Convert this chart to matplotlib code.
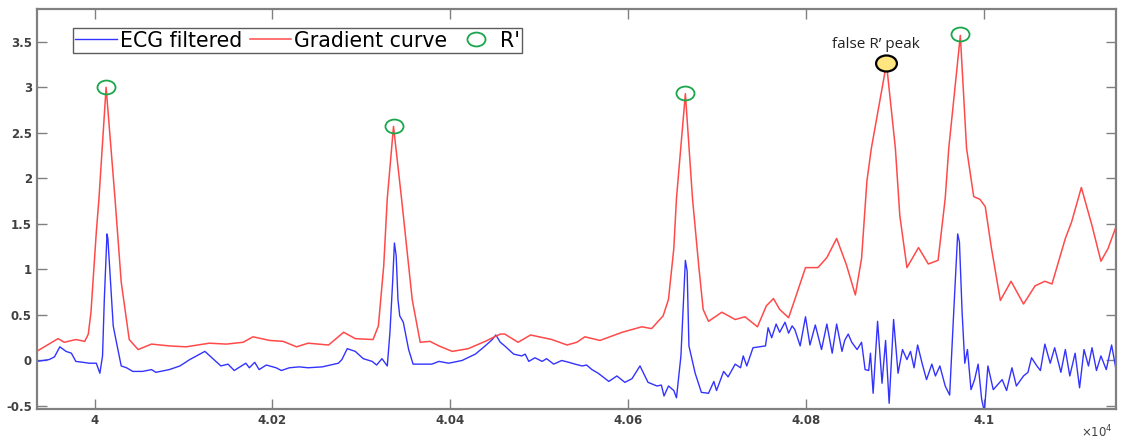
import numpy as np
from matplotlib import pyplot as plt
from matplotlib.path import Path

# Gradient curve (red) at its turning points
grad_x = [39935, 39959, 39966, 39979, 39989, 39993, 39996, 40002, 40005, 40013,
          40023, 40030, 40039, 40049, 40064, 40084, 40103, 40129, 40148, 40167,
          40178, 40197, 40212, 40227, 40240, 40263, 40280, 40293, 40313, 40319,
          40325, 40329, 40336, 40345, 40357, 40366, 40377, 40387, 40402, 40420,
          40439, 40456, 40461, 40476, 40490, 40514, 40531, 40542, 40551, 40568,
          40593, 40615, 40626, 40639, 40645, 40651, 40654, 40664, 40672, 40679,
          40684, 40690, 40705, 40720, 40731, 40745, 40755, 40763, 40770, 40780,
          40787, 40799, 40813, 40823, 40834, 40845, 40855, 40862, 40868, 40873,
          40890, 40900, 40905, 40913, 40926, 40937, 40948, 40956, 40960, 40973,
          40980, 40988, 40995, 41001, 41008, 41018, 41030, 41044, 41057, 41068,
          41076, 41091, 41098, 41109, 41121, 41131, 41139, 41148]
grad_y = [0.10, 0.24, 0.20, 0.23, 0.21, 0.29, 0.53, 1.41, 1.78, 3.00,
          1.78, 0.86, 0.23, 0.12, 0.18, 0.16, 0.15, 0.19, 0.18, 0.20,
          0.26, 0.22, 0.21, 0.15, 0.19, 0.17, 0.31, 0.24, 0.23, 0.38,
          1.04, 1.78, 2.57, 1.78, 0.67, 0.20, 0.21, 0.16, 0.10, 0.13,
          0.21, 0.29, 0.29, 0.20, 0.28, 0.23, 0.17, 0.20, 0.26, 0.22,
          0.31, 0.37, 0.35, 0.49, 0.67, 1.23, 1.78, 2.93, 1.78, 1.04,
          0.56, 0.43, 0.53, 0.45, 0.48, 0.37, 0.60, 0.68, 0.56, 0.47,
          0.67, 1.02, 1.02, 1.13, 1.34, 1.05, 0.72, 1.12, 1.97, 2.33,
          3.26, 2.33, 1.59, 1.02, 1.24, 1.06, 1.10, 1.78, 2.33, 3.57,
          2.33, 1.80, 1.77, 1.69, 1.23, 0.66, 0.87, 0.62, 0.82, 0.87,
          0.84, 1.34, 1.52, 1.90, 1.48, 1.09, 1.23, 1.47]

# Filtered ECG (blue)
ecg_x = [39935, 39949, 39955, 39961, 39968, 39974, 39979, 39987, 39994, 40002,
         40006, 40009, 40011, 40014, 40015, 40018, 40021, 40024, 40030, 40036,
         40043, 40054, 40064, 40069, 40084, 40096, 40107, 40124, 40133, 40142,
         40150, 40157, 40170, 40174, 40180, 40185, 40193, 40204, 40210, 40219,
         40230, 40240, 40256, 40274, 40278, 40284, 40293, 40302, 40312, 40317,
         40323, 40329, 40332, 40335, 40337, 40339, 40341, 40343, 40347, 40353,
         40358, 40372, 40379, 40387, 40398, 40413, 40428, 40439, 40447, 40451,
         40456, 40461, 40471, 40480, 40484, 40488, 40495, 40503, 40508, 40516,
         40525, 40533, 40540, 40548, 40553, 40559, 40566, 40578, 40587, 40596,
         40604, 40613, 40622, 40632, 40637, 40640, 40645, 40651, 40654, 40659,
         40662, 40664, 40666, 40668, 40675, 40682, 40690, 40696, 40699, 40707,
         40712, 40720, 40726, 40729, 40733, 40740, 40754, 40757, 40761, 40766,
         40770, 40776, 40780, 40784, 40787, 40793, 40799, 40804, 40810, 40817,
         40823, 40829, 40834, 40840, 40843, 40847, 40851, 40857, 40862, 40866,
         40870, 40872, 40875, 40880, 40885, 40889, 40893, 40898, 40903, 40908,
         40913, 40917, 40921, 40925, 40930, 40935, 40941, 40945, 40950, 40956,
         40961, 40965, 40970, 40972, 40975, 40978, 40981, 40985, 40989, 40993,
         40997, 41000, 41004, 41010, 41020, 41025, 41031, 41036, 41044, 41049,
         41053, 41059, 41063, 41068, 41074, 41079, 41086, 41091, 41096, 41102,
         41107, 41112, 41117, 41121, 41126, 41131, 41137, 41143, 41148]
ecg_y = [-0.01, 0.01, 0.04, 0.15, 0.10, 0.08, -0.01, -0.02, -0.03, -0.03,
         -0.14, 0.05, 0.67, 1.39, 1.34, 0.86, 0.38, 0.23, -0.06, -0.08,
         -0.12, -0.12, -0.10, -0.13, -0.10, -0.06, 0.01, 0.10, 0.02, -0.06,
         -0.04, -0.11, -0.03, -0.08, -0.02, -0.10, -0.05, -0.08, -0.11, -0.08,
         -0.07, -0.08, -0.07, -0.03, 0.01, 0.13, 0.10, 0.02, -0.01, -0.05,
         0.02, -0.06, 0.31, 0.86, 1.29, 1.15, 0.67, 0.49, 0.42, 0.12,
         -0.04, -0.04, -0.04, -0.01, -0.03, 0.00, 0.07, 0.16, 0.23, 0.28,
         0.20, 0.16, 0.07, 0.05, 0.07, -0.01, 0.03, -0.01, 0.02, -0.04,
         0.00, -0.02, -0.04, -0.06, -0.05, -0.10, -0.14, -0.23, -0.17, -0.24,
         -0.20, -0.06, -0.24, -0.28, -0.27, -0.39, -0.28, -0.33, -0.41, 0.05,
         0.67, 1.10, 0.98, 0.16, -0.14, -0.35, -0.36, -0.23, -0.33, -0.12,
         -0.18, -0.04, -0.08, 0.05, -0.06, 0.14, 0.16, 0.36, 0.25, 0.40,
         0.31, 0.42, 0.30, 0.38, 0.34, 0.16, 0.48, 0.17, 0.39, 0.12,
         0.40, 0.08, 0.40, 0.10, 0.22, 0.29, 0.20, 0.12, 0.20, -0.10,
         -0.11, 0.08, -0.36, 0.43, -0.25, 0.22, -0.47, 0.45, -0.14, 0.12,
         0.01, 0.10, -0.08, 0.17, -0.03, -0.21, -0.04, -0.17, -0.06, -0.28,
         -0.38, 0.42, 1.39, 1.30, 0.53, -0.03, 0.12, -0.32, -0.21, -0.04,
         -0.43, -0.56, -0.06, -0.32, -0.21, -0.33, -0.08, -0.28, -0.17, -0.13,
         0.03, -0.06, -0.11, 0.18, -0.03, 0.14, -0.13, 0.12, -0.17, 0.08,
         -0.30, 0.12, -0.06, 0.14, -0.11, 0.05, -0.10, 0.17, -0.10]

# detected R' peaks and the false one
r_x = [40013, 40336, 40664, 40973]
r_y = [3.00, 2.58, 2.94, 3.58]
false_x = 40890
false_y = 3.27

xticks = [40000, 40200, 40400, 40600, 40800, 41000]
xtick_labels = ['4', '4.02', '4.04', '4.06', '4.08', '4.1']
yticks = [-0.5, 0, 0.5, 1, 1.5, 2, 2.5, 3, 3.5]
ytick_labels = ['-0.5', '0', '0.5', '1', '1.5', '2', '2.5', '3', '3.5']


def main():
    fig = plt.figure(figsize=(11.22, 4.43), dpi=100)
    ax = fig.add_axes([0.0327, 0.0767, 0.962, 0.903])

    # slightly wide ellipse, the original image was stretched sideways
    circ = Path.unit_circle()
    ell = Path(circ.vertices * np.array([1.3, 1.0]), circ.codes)

    ax.plot(ecg_x, ecg_y, color='#3333ff', lw=1.0, label='ECG filtered')
    ax.plot(grad_x, grad_y, color='#ff4a4a', lw=1.1, label='Gradient curve')
    ax.plot(r_x, r_y, ls='none', marker=ell, ms=13, mfc='none', mec='#1aa64a',
            mew=1.3, label="R'")
    ax.plot([false_x], [false_y], ls='none', marker=ell, ms=15, mfc='#ffe680',
            mec='black', mew=1.6)
    ax.text(false_x - 12, 3.47, "false R\u2019 peak", ha='center', va='center',
            fontsize=11, family='Open Sans', color='#222222')

    ax.set_xlim(39935, 41148)
    ax.set_ylim(-0.533, 3.86)
    ax.set_xticks(xticks)
    ax.set_xticklabels(xtick_labels)
    ax.set_yticks(yticks)
    ax.set_yticklabels(ytick_labels)
    ax.tick_params(direction='in', top=True, right=True, length=7, width=1,
                   color='#808080', labelsize=8.5, labelcolor='#404040')
    for lab in ax.get_xticklabels() + ax.get_yticklabels():
        lab.set_fontweight('bold')
    for sp in ax.spines.values():
        sp.set_color('#808080')
        sp.set_linewidth(1.6)

    fig.text(0.978, 0.005, r'$\times10^4$', ha='center', va='bottom',
             fontsize=8.5, color='#404040')

    leg = ax.legend(loc='upper left', bbox_to_anchor=(0.0336, 0.952), ncol=3,
                    fontsize=14.8, frameon=True, fancybox=False, handlelength=2.0,
                    handletextpad=0.15, columnspacing=0.4, borderpad=0.12,
                    borderaxespad=0)
    leg.get_frame().set_edgecolor('#333333')
    leg.get_frame().set_linewidth(1.0)

    fig.savefig('out.png', dpi=100)


if __name__ == '__main__':
    main()
